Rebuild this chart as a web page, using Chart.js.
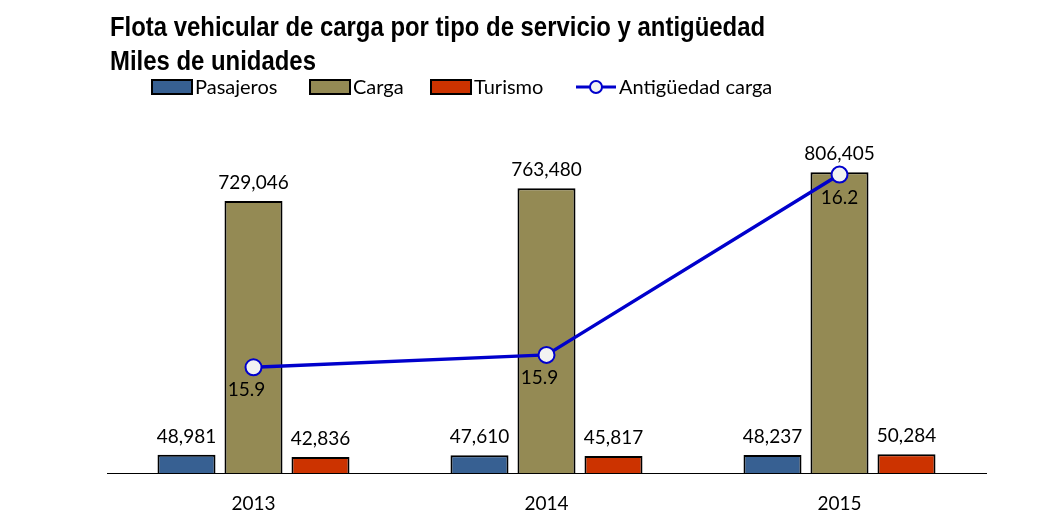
<!DOCTYPE html>
<html>
<head>
<meta charset="utf-8">
<script src="https://cdn.jsdelivr.net/npm/chart.js@4.4.1/dist/chart.umd.min.js"></script>
<style>
  body { margin: 0; background: #fff; }
  #wrap { position: relative; width: 1056px; height: 521px; }
  .title { position: absolute; left: 110px; font-family: "Liberation Sans Narrow", "Arial Narrow", "Liberation Sans", sans-serif; font-weight: bold; font-size: 28px; color: #000; white-space: nowrap; transform-origin: left center; }
  #t1 { top: 11px; }
  #t2 { top: 45px; }
</style>
</head>
<body>
<div id="wrap">
  <canvas id="chartCanvas" width="1056" height="521"></canvas>
  <div class="title" id="t1">Flota vehicular de carga por tipo de servicio y antigüedad</div>
  <div class="title" id="t2">Miles de unidades</div>
</div>
<script>
// Data for chart
var years = ['2013', '2014', '2015'];
var pasajeros = [48981, 47610, 48237];
var carga = [729046, 763480, 806405];
var turismo = [42836, 45817, 50284];
var antiguedad = [15.87, 15.89, 16.18];

// squeeze the title to look like a narrow font
var t1 = document.getElementById('t1');
var sx = 655 / t1.offsetWidth;
t1.style.transform = 'scaleX(' + sx + ')';
document.getElementById('t2').style.transform = 'scaleX(' + sx + ')';

var fontFamily = 'Lato, "Open Sans", sans-serif';

// Draws value labels and the legend
var labelsPlugin = {
  id: 'labelsPlugin',
  afterDatasetsDraw: function(chart) {
    var ctx = chart.ctx;
    ctx.save();
    ctx.font = '19px ' + fontFamily;
    ctx.fillStyle = '#000';
    ctx.textAlign = 'center';
    chart.data.datasets.forEach(function(ds, i) {
      var meta = chart.getDatasetMeta(i);
      meta.data.forEach(function(el, j) {
        if (ds.type === 'line') {
          ctx.textBaseline = 'middle';
          ctx.fillText(ds.data[j].toFixed(1), el.x - (j < 2 ? 7 : 0), el.y + 23);
        } else {
          ctx.textBaseline = 'alphabetic';
          ctx.fillText(ds.data[j].toLocaleString('en-US'), el.x, el.y - 12);
        }
      });
    });

    // legend
    var items = [
      { x: 152, text: 'Pasajeros', color: '#376092' },
      { x: 310, text: 'Carga', color: '#948a54' },
      { x: 431, text: 'Turismo', color: '#cc3300' },
      { x: 576, text: 'Antigüedad carga', line: true }
    ];
    var ly = 87;
    ctx.font = '20px ' + fontFamily;
    ctx.textAlign = 'left';
    ctx.textBaseline = 'middle';
    items.forEach(function(it) {
      if (it.line) {
        ctx.strokeStyle = '#0000cc';
        ctx.lineWidth = 3;
        ctx.beginPath();
        ctx.moveTo(it.x, ly);
        ctx.lineTo(it.x + 40, ly);
        ctx.stroke();
        ctx.beginPath();
        ctx.arc(it.x + 20, ly, 6, 0, Math.PI * 2);
        ctx.fillStyle = '#f2f2f2';
        ctx.fill();
        ctx.lineWidth = 2;
        ctx.stroke();
      } else {
        ctx.fillStyle = it.color;
        ctx.fillRect(it.x, ly - 7, 40, 14);
        ctx.strokeStyle = '#000';
        ctx.lineWidth = 2;
        ctx.strokeRect(it.x, ly - 7, 40, 14);
      }
      ctx.fillStyle = '#000';
      ctx.fillText(it.text, it.x + 43, ly + 1);
    });
    ctx.restore();
  }
};

var ctx = document.getElementById('chartCanvas').getContext('2d');

var chart = new Chart(ctx, {
  type: 'bar',
  data: {
    labels: years,
    datasets: [
      {
        type: 'line',
        label: 'Antigüedad carga',
        data: antiguedad,
        yAxisID: 'y2',
        borderColor: '#0000cc',
        borderWidth: 3.5,
        pointRadius: 8,
        pointBorderWidth: 2,
        pointBackgroundColor: '#f2f2f2',
        pointBorderColor: '#0000cc',
        tension: 0,
        order: 0
      },
      {
        label: 'Pasajeros',
        data: pasajeros,
        backgroundColor: '#376092',
        borderColor: '#000',
        borderWidth: 2,
        order: 1
      },
      {
        label: 'Carga',
        data: carga,
        backgroundColor: '#948a54',
        borderColor: '#000',
        borderWidth: 2,
        order: 1
      },
      {
        label: 'Turismo',
        data: turismo,
        backgroundColor: '#cc3300',
        borderColor: '#000',
        borderWidth: 2,
        order: 1
      }
    ]
  },
  options: {
    responsive: false,
    animation: false,
    categoryPercentage: 0.686,
    barPercentage: 0.866,
    layout: {
      padding: { left: 107, right: 70, top: 100, bottom: 0 }
    },
    scales: {
      x: {
        grid: { display: false, drawTicks: false },
        border: { display: true, color: '#000', width: 1 },
        ticks: { color: '#000', font: { family: fontFamily, size: 19 }, padding: 19 },
        afterFit: function(s) { s.height = 48; }
      },
      y: {
        display: false,
        min: 0,
        max: 1000000
      },
      y2: {
        display: false,
        position: 'right',
        min: 15.7,
        max: 16.3
      }
    },
    plugins: {
      legend: { display: false },
      tooltip: { enabled: false }
    }
  },
  plugins: [labelsPlugin]
});
</script>
</body>
</html>
